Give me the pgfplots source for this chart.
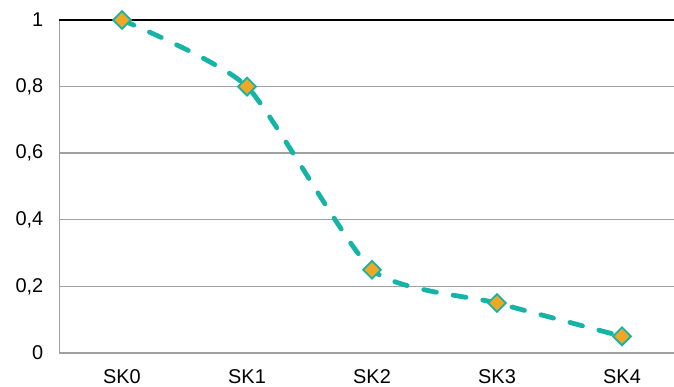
\documentclass[border=0pt]{standalone}
\usepackage{fontspec}
\setmainfont{Liberation Sans}
\usepackage{pgfplots}
\pgfplotsset{compat=1.18}
\definecolor{teal1}{RGB}{22,180,166}
\definecolor{orange1}{RGB}{240,168,36}
\definecolor{gridgray}{RGB}{160,160,160}
\begin{document}
\begin{tikzpicture}
\begin{axis}[
  name=ax,
  scale only axis,
  width=614.5bp, height=333bp,
  xmin=-0.5, xmax=4.416,
  ymin=0, ymax=1,
  axis x line*=bottom,
  axis y line*=left,
  axis line style={gridgray, line width=1.8bp},
  xtick={0,1,2,3,4},
  xticklabels={SK0,SK1,SK2,SK3,SK4},
  ytick={0,0.2,0.4,0.6,0.8},
  extra y ticks={1},
  extra y tick style={grid style={black, line width=1.5bp}},
  ymajorgrids,
  grid style={gridgray, line width=1.4bp},
  major tick length=0pt,
  tick label style={font=\fontsize{20}{22}\selectfont, inner sep=0pt},
  yticklabel style={xshift=-16bp},
  xticklabel style={yshift=-16bp},
  /pgf/number format/assume math mode=true,
  /pgf/number format/use comma,
  yticklabel={\pgfmathprintnumber{\tick}},
  clip=false,
]
\addplot[teal1, line width=4.8bp, line cap=round, dash pattern=on 13bp off 17bp,
  smooth, tension=0.35,
  mark=square*, mark size=6.3bp,
  mark options={solid, rotate=45, fill=orange1, draw=teal1, line width=1.8bp}]
  coordinates {(0,1) (1,0.8) (2,0.25) (3,0.15) (4,0.05)};
\end{axis}
\pgfresetboundingbox
\path (ax.south west) ++(-59.5bp,-34bp) coordinate (bl);
\path (ax.north east) ++(0bp,20bp) coordinate (tr);
\path[use as bounding box] (bl) rectangle (tr);
\end{tikzpicture}
\end{document}
